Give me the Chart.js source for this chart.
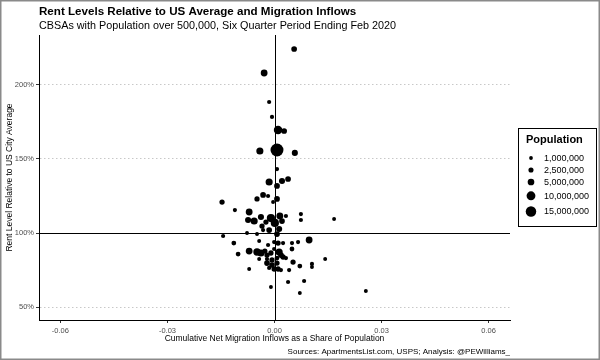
<!DOCTYPE html>
<html><head><meta charset="utf-8">
<script src="https://cdn.jsdelivr.net/npm/chart.js@4.4.1/dist/chart.umd.min.js"></script>
<style>html,body{margin:0;padding:0;background:#fff}#wrap{width:600px;height:360px;position:relative}canvas{display:block}</style>
</head><body><div id="wrap"><canvas id="c" width="600" height="360"></canvas></div>
<script>
// ---- data ----
const migration = [
  0.0055,-0.0029,-0.0015,-0.0007,0.0010,0.0027,-0.0041,0.0007,0.0057,0.0007,
  -0.0015,0.0021,0.0038,0.0007,-0.0032,-0.0018,-0.0049,0.0007,-0.0004,-0.0147,
  -0.0111,-0.0071,0.0074,0.0074,0.0167,-0.0074,-0.0057,-0.0038,-0.0010,0.0001,
  0.0015,0.0032,-0.0015,0.0013,-0.0032,-0.0049,-0.0077,-0.0144,0.0007,0.0097,
  -0.0114,-0.0043,-0.0001,0.0010,0.0024,0.0049,0.0066,-0.0018,-0.0102,-0.0071,
  -0.0049,-0.0038,-0.0027,-0.0021,-0.0010,-0.0001,0.0013,0.0018,0.0024,0.0049,
  -0.0043,-0.0021,-0.0007,0.0007,0.0032,-0.0021,-0.0007,0.0007,0.0052,-0.0071,
  -0.0015,-0.0001,0.0010,0.0018,0.0041,0.0071,0.0105,0.0105,0.0142,0.0038,
  0.0083,-0.0010,0.0071,0.0256,0.0021,-0.0035,-0.0024
];
const rentPct = [
  224.3,208.1,188.5,178.4,169.6,168.9,155.4,156.1,154.1,143.2,
  134.5,135.1,136.5,131.8,125.7,125.0,123.0,123.0,120.9,120.9,
  115.5,114.2,112.8,108.8,109.5,108.8,108.1,110.8,110.1,106.8,
  111.5,111.5,102.0,102.7,102.0,99.3,100.0,98.0,99.3,95.3,
  93.2,94.6,93.9,93.2,93.2,93.2,93.9,91.9,85.8,87.8,
  87.2,86.5,87.8,85.1,86.5,89.2,87.2,85.1,83.8,89.2,
  82.4,82.4,81.8,83.1,83.1,79.7,78.4,79.7,80.4,75.7,
  76.4,75.7,75.7,75.0,75.0,77.7,79.1,77.0,82.4,66.9,
  67.6,63.5,59.5,60.8,108.1,104.7,107.4
];
const popMillions = [
  2.5,4,1,1,7,2.5,4.5,19,3,1,
  4.5,3,2.5,2.5,2.5,1,2,2.5,0.8,2,
  1,4,1,1,0.8,3,4.5,3,6.5,6.5,
  4,1,2.5,3,1,0.8,0.8,1,2.5,4,
  1.5,0.8,1,2,1,1,1,1,1.5,4,
  5,4.5,2,2,2,1,4.5,2.5,2,1.5,
  0.8,1,2,1.5,1,2.5,2.5,2,2,0.8,
  1,2,2,1,1,1.5,1,0.8,0.8,1,
  1,0.8,0.8,0.8,2.5,2,2
];
const xTicks = [-0.06,-0.03,0,0.03,0.06];
const xTickLabels = ['-0.06','-0.03','0.00','0.03','0.06'];
const yTicks = [50,100,150,200];
const yTickLabels = ['50%','100%','150%','200%'];
const legendPops = [1,2.5,5,10,15];
const legendLabels = ['1,000,000','2,500,000','5,000,000','10,000,000','15,000,000'];
const titleText = 'Rent Levels Relative to US Average and Migration Inflows';
const subtitleText = 'CBSAs with Population over 500,000, Six Quarter Period Ending Feb 2020';
const captionText = 'Sources: ApartmentsList.com, USPS; Analysis: @PEWilliams_';
const xTitle = 'Cumulative Net Migration Inflows as a Share of Population';
const yTitle = 'Rent Level Relative to US City Average';
const legendTitle = 'Population';

// ---- styling ----
const FONT = '"Liberation Sans", Arial, Helvetica, sans-serif';
Chart.defaults.font.family = FONT;
function radiusFor(m){ return 0.8 + 1.3*Math.sqrt(m); }

const points = migration.map((x,i)=>({x:x, y:rentPct[i]}));

const decor = {
  id:'decor',
  beforeDatasetsDraw(chart){
    const {ctx, chartArea:a, scales:{x,y}} = chart;
    ctx.save();
    ctx.strokeStyle = '#000'; ctx.lineWidth = 1;
    const px = Math.round(x.getPixelForValue(0)) + 0.5;
    const py = Math.round(y.getPixelForValue(100)) + 0.5;
    ctx.beginPath();
    ctx.moveTo(px, a.top); ctx.lineTo(px, a.bottom);
    ctx.moveTo(a.left, py); ctx.lineTo(a.right, py);
    ctx.stroke();
    ctx.restore();
  },
  afterDraw(chart){
    const {ctx, chartArea:a} = chart;
    ctx.save();
    ctx.fillStyle = '#000';
    ctx.textAlign = 'left'; ctx.textBaseline = 'alphabetic';
    ctx.font = 'bold 11.6px ' + FONT;
    ctx.fillText(titleText, a.left, 14.5);
    ctx.font = '10.8px ' + FONT;
    ctx.fillText(subtitleText, a.left, 29);
    ctx.font = '8px ' + FONT;
    ctx.textAlign = 'right';
    ctx.fillText(captionText, a.right, 354);
    // legend
    ctx.strokeStyle = '#000'; ctx.lineWidth = 1;
    ctx.strokeRect(518.5, 128.5, 78, 98);
    ctx.textAlign = 'left';
    ctx.font = 'bold 11px ' + FONT;
    ctx.fillText(legendTitle, 526, 143);
    ctx.font = '9px ' + FONT;
    ctx.textBaseline = 'middle';
    let yy = 158;
    legendPops.forEach((p,i)=>{
      const r = radiusFor(p) * 0.9;
      if (i > 0) yy += Math.max(12, radiusFor(legendPops[i-1])*0.9 + r + 6);
      ctx.beginPath(); ctx.arc(531, yy, r, 0, Math.PI*2); ctx.fill();
      ctx.fillText(legendLabels[i], 544, yy + 0.5);
    });
    // frame
    ctx.strokeStyle = '#8a8a8a'; ctx.lineWidth = 1.5;
    ctx.strokeRect(0.75, 0.75, 598.5, 358.5);
    ctx.restore();
  }
};

new Chart(document.getElementById('c'), {
  type: 'scatter',
  data: { datasets: [{
    data: points,
    backgroundColor: '#000',
    borderWidth: 0,
    pointRadius: c => radiusFor(popMillions[c.dataIndex]),
    pointHoverRadius: c => radiusFor(popMillions[c.dataIndex])
  }]},
  options: {
    responsive: false, animation: false, events: [],
    layout: { padding: { top: 35, right: 90, bottom: 12, left: 0 } },
    plugins: { legend: { display: false }, tooltip: { enabled: false } },
    scales: {
      x: {
        type: 'linear', min: -0.066, max: 0.066,
        afterBuildTicks: s => { s.ticks = xTicks.map(v => ({value: v})); },
        ticks: { callback: v => xTickLabels[xTicks.indexOf(v)], font: { size: 7.5 }, color: '#4d4d4d', padding: 3, maxRotation: 0, autoSkip: false },
        grid: { drawOnChartArea: false, drawTicks: true, tickLength: 3, tickColor: '#333' },
        border: { display: true, color: '#000', width: 1 },
        title: { display: true, text: xTitle, font: { size: 8.5 }, color: '#000', padding: { top: 0, bottom: 4 } },
        afterFit: s => { s.height = 28; }
      },
      y: {
        type: 'linear', min: 41.25, max: 233.75,
        afterBuildTicks: s => { s.ticks = yTicks.map(v => ({value: v})); },
        ticks: { callback: v => yTickLabels[yTicks.indexOf(v)], font: { size: 7.5 }, color: '#4d4d4d', padding: 2, autoSkip: false },
        grid: { drawOnChartArea: true, drawTicks: true, tickLength: 3, tickColor: '#333', color: '#c8c8c8', lineWidth: 1 },
        border: { display: true, color: '#000', width: 1, dash: [1.5, 2.5] },
        title: { display: true, text: yTitle, font: { size: 8.5 }, color: '#000', padding: { top: 5, bottom: 0 } },
        afterFit: s => { s.width = 39; }
      }
    }
  },
  plugins: [decor]
});
</script>
</body></html>
